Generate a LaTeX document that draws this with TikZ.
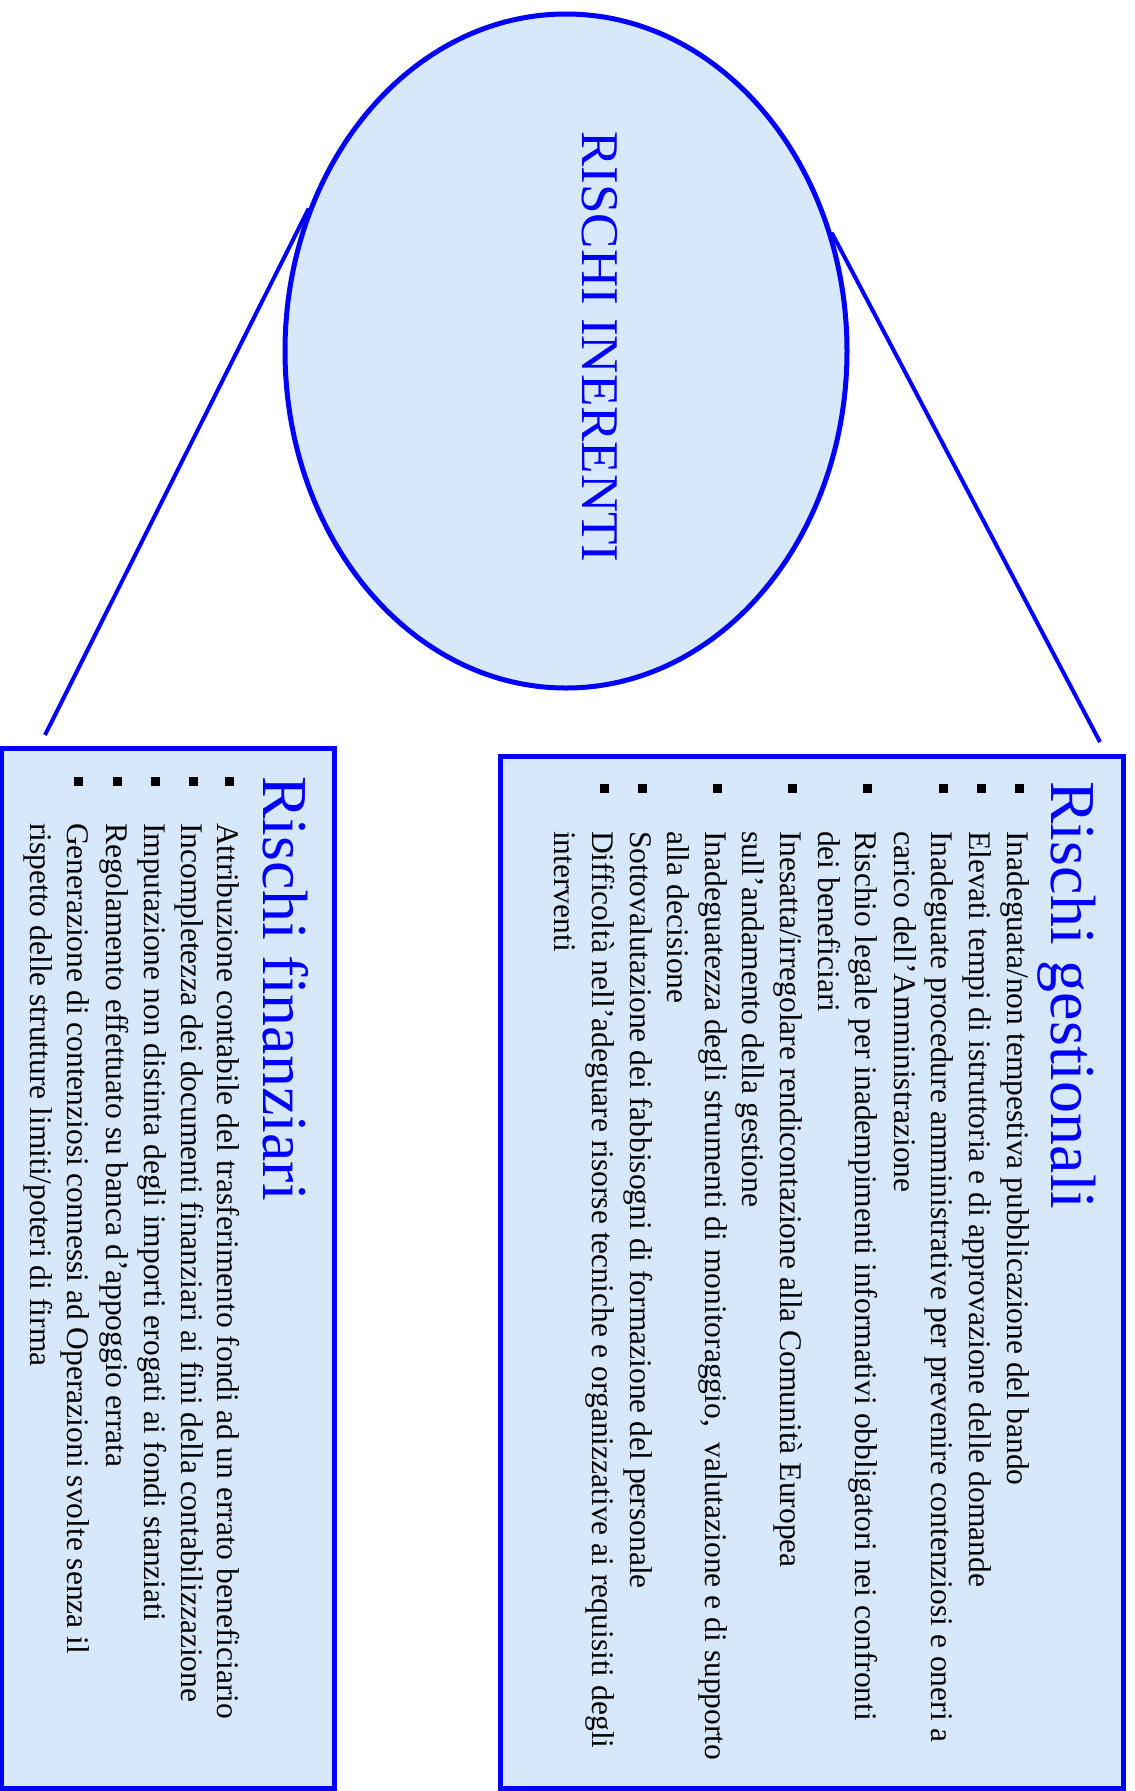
\documentclass[tikz,border=0pt]{standalone}
\usepackage{fontspec}
\setmainfont{Liberation Serif}
\usetikzlibrary{shapes.geometric}
\definecolor{paper}{RGB}{216,232,251}
\definecolor{edge}{RGB}{0,0,255}
\newcommand{\bodyfont}{\fontsize{31.5}{37}\selectfont}
\newcommand{\headfont}{\fontsize{64}{70}\selectfont}
\newcommand{\ovalfont}{\fontsize{53}{60}\selectfont}

\begin{document}
\begin{tikzpicture}[x=1pt,y=-1pt,
  ln/.style={rotate=-90,anchor=base west,inner sep=0pt,font=\bodyfont},
  head/.style={rotate=-90,anchor=base west,inner sep=0pt,font=\headfont,text=edge},
  bul/.style={fill=black,minimum size=9pt,inner sep=0pt},
  panel/.style={draw=edge,line width=5pt,fill=paper,inner sep=0pt},
  link/.style={draw=edge,line width=4pt}]
\useasboundingbox (0,0) rectangle (1135,1791);
\clip (0,0) rectangle (1135,1791);

% central oval
\node[ellipse,draw=edge,line width=5pt,fill=paper,inner sep=0pt,
      minimum width=562pt,minimum height=674pt] (inh) at (566,351) {};
\node[rotate=-90,anchor=base west,inner sep=0pt,font=\ovalfont,text=edge]
  (inhtxt) at (582,131) {RISCHI INERENTI};

% panels
\node[panel,minimum width=623pt,minimum height=1032.5pt] (gest) at (811.5,1272.25) {};
\node[panel,minimum width=333.5pt,minimum height=1040.5pt] (fin) at (167.75,1268.25) {};

% connectors
\coordinate (gend) at (1100,742);
\coordinate (fend) at (45,735);
\draw[link] (inh.24) -- (gend);
\draw[link] (inh.151) -- (fend);

% Rischi gestionali
\node[head] (gh) at (1051,781) {Rischi gestionali};
\node[ln] (g1) at (1007,831) {Inadeguata/non tempestiva pubblicazione del bando};
\node[ln] (g2) at (969,831) {Elevati tempi di istruttoria e di approvazione delle domande};
\node[ln] (g3) at (931.5,831) {Inadeguate procedure amministrative per prevenire contenziosi e oneri a};
\node[ln] (g4) at (894,831) {carico dell’Amministrazione};
\node[ln] (g5) at (855.5,831) {Rischio legale per inadempimenti informativi obbligatori nei confronti};
\node[ln] (g6) at (818,831) {dei beneficiari};
\node[ln] (g7) at (780,831) {Inesatta/irregolare rendicontazione alla Comunità Europea};
\node[ln] (g8) at (742,831) {sull’andamento della gestione};
\node[ln] (g9) at (705,831) {Inadeguatezza degli strumenti di monitoraggio,~ valutazione e di supporto};
\node[ln] (g10) at (667.5,831) {alla decisione};
\node[ln] (g11) at (630,831) {Sottovalutazione dei fabbisogni di formazione del personale};
\node[ln] (g12) at (592.5,831) {Difficoltà nell’adeguare risorse tecniche e organizzative ai requisiti degli};
\node[ln] (g13) at (554,831) {interventi};
\foreach \i/\x in {1/1019,2/981,3/943.5,5/867.5,7/792,9/717,11/642,12/604.5}
  \node[bul] (gb\i) at (\x,788) {};

% Rischi finanziari
\node[head] (fh) at (263,776) {Rischi finanziari};
\node[ln] (f1) at (217.5,823) {Attribuzione contabile del trasferimento fondi ad un errato beneficiario};
\node[ln] (f2) at (181.5,823) {Incompletezza dei documenti finanziari ai fini della contabilizzazione};
\node[ln] (f3) at (144,823) {Imputazione non distinta degli importi erogati ai fondi stanziati};
\node[ln] (f4) at (106,823) {Regolamento effettuato su banca d’appoggio errata};
\node[ln] (f5) at (67,823) {Generazione di contenziosi connessi ad Operazioni svolte senza il};
\node[ln] (f6) at (30,823) {rispetto delle strutture limiti/poteri di firma};
\foreach \i/\x in {1/229,2/193,3/155,4/117,5/78}
  \node[bul] (fb\i) at (\x,781) {};
\end{tikzpicture}
\end{document}
